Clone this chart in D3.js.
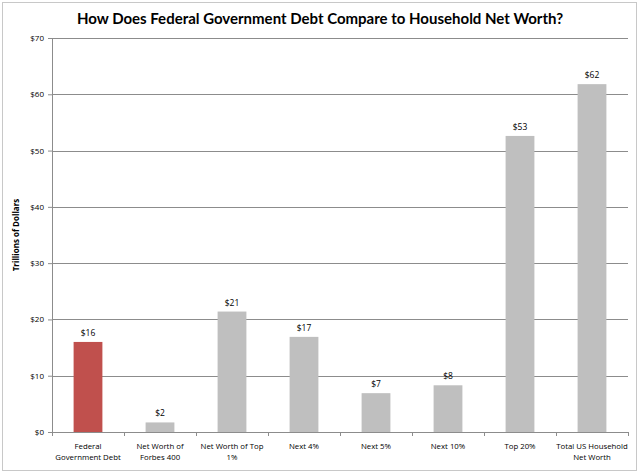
<!DOCTYPE html>
<html>
<head>
<meta charset="utf-8">
<script src="https://cdn.jsdelivr.net/npm/d3@7"></script>
<style>
  body { margin: 0; background: #fff; }
  svg { display: block; }
  text { font-family: "Open Sans", Lato, sans-serif; fill: #000; }
</style>
</head>
<body>
<svg></svg>
<script>
var categories = [
    ["Federal", "Government Debt"],
    ["Net Worth of", "Forbes 400"],
    ["Net Worth of Top", "1%"],
    ["Next 4%"],
    ["Next 5%"],
    ["Next 10%"],
    ["Top 20%"],
    ["Total US Household", "Net Worth"]
];
var values = [16, 1.7, 21.4, 16.9, 6.9, 8.3, 52.6, 61.8];
var labels = ["$16", "$2", "$21", "$17", "$7", "$8", "$53", "$62"];
var yTicks = [0, 10, 20, 30, 40, 50, 60, 70];

var W = 640, H = 473;
var margin = { top: 38, right: 12, bottom: 41, left: 52 },
    width = W - margin.left - margin.right,
    height = H - margin.top - margin.bottom;

var svg = d3.select("svg").attr("width", W).attr("height", H);

// outer frame
svg.append("rect")
    .attr("x", 2.5).attr("y", 2.5)
    .attr("width", 634).attr("height", 468)
    .attr("fill", "#fff").attr("stroke", "#c8c8c8");

svg.append("text")
    .attr("x", 320).attr("y", 24)
    .attr("text-anchor", "middle")
    .style("font-family", "Lato, sans-serif")
    .style("font-size", "15px").style("font-weight", "bold")
    .text("How Does Federal Government Debt Compare to Household Net Worth?");

var g = svg.append("g")
    .attr("transform", "translate(" + margin.left + "," + margin.top + ")");

var x = d3.scaleBand().domain(d3.range(categories.length)).range([0, width]).paddingInner(0.6).paddingOuter(0.3);
var xb = d3.scaleBand().domain(d3.range(categories.length)).range([0, width]);
var y = d3.scaleLinear().domain([0, 70]).range([height, 0]);

// gridlines
g.selectAll("line.grid")
    .data(yTicks.slice(1))
    .enter().append("line")
    .attr("class", "grid")
    .attr("x1", 0).attr("x2", width)
    .attr("y1", function (d) { return Math.round(y(d)) + 0.5; })
    .attr("y2", function (d) { return Math.round(y(d)) + 0.5; })
    .attr("stroke", "#8c8c8c").attr("stroke-width", 1);

// y axis
var yAxis = g.append("g")
    .call(d3.axisLeft(y).tickValues(yTicks).tickSize(4).tickFormat(function (d) { return "$" + d; }));
yAxis.attr("font-family", null);
yAxis.select(".domain").attr("stroke", "#8c8c8c");
yAxis.selectAll(".tick line").attr("stroke", "#8c8c8c");
yAxis.selectAll(".tick text").style("font-size", "8px").attr("x", -8).attr("fill", "#000");

svg.append("text")
    .attr("transform", "translate(19," + (margin.top + height / 2) + ") rotate(-90)")
    .attr("text-anchor", "middle")
    .style("font-size", "8px").style("font-weight", "bold")
    .text("Trillions of Dollars");

// bars
g.selectAll("rect.bar")
    .data(values)
    .enter().append("rect")
    .attr("class", "bar")
    .attr("x", function (d, i) { return x(i); })
    .attr("width", x.bandwidth())
    .attr("y", function (d) { return y(d); })
    .attr("height", function (d) { return height - y(d); })
    .attr("fill", function (d, i) { return i === 0 ? "#c0504d" : "#bfbfbf"; });

g.selectAll("text.val")
    .data(values)
    .enter().append("text")
    .attr("class", "val")
    .attr("x", function (d, i) { return x(i) + x.bandwidth() / 2; })
    .attr("y", function (d) { return y(d) - 6; })
    .attr("text-anchor", "middle")
    .style("font-size", "8.5px")
    .text(function (d, i) { return labels[i]; });

// x axis
g.append("line")
    .attr("x1", 0).attr("x2", width)
    .attr("y1", height + 0.5).attr("y2", height + 0.5)
    .attr("stroke", "#8c8c8c");
g.selectAll("line.xtick")
    .data(d3.range(categories.length + 1))
    .enter().append("line")
    .attr("class", "xtick")
    .attr("x1", function (d) { return Math.round(d * xb.step()) + 0.5; })
    .attr("x2", function (d) { return Math.round(d * xb.step()) + 0.5; })
    .attr("y1", height).attr("y2", height + 4)
    .attr("stroke", "#8c8c8c");

var cat = g.selectAll("text.cat")
    .data(categories)
    .enter().append("text")
    .attr("class", "cat")
    .attr("text-anchor", "middle")
    .style("font-size", "7.8px")
    .attr("transform", function (d, i) { return "translate(" + (xb(i) + xb.bandwidth() / 2) + "," + (height + 17) + ")"; });
cat.selectAll("tspan")
    .data(function (d) { return d; })
    .enter().append("tspan")
    .attr("x", 0)
    .attr("dy", function (d, j) { return j === 0 ? 0 : 10.5; })
    .text(function (d) { return d; });
</script>
</body>
</html>
